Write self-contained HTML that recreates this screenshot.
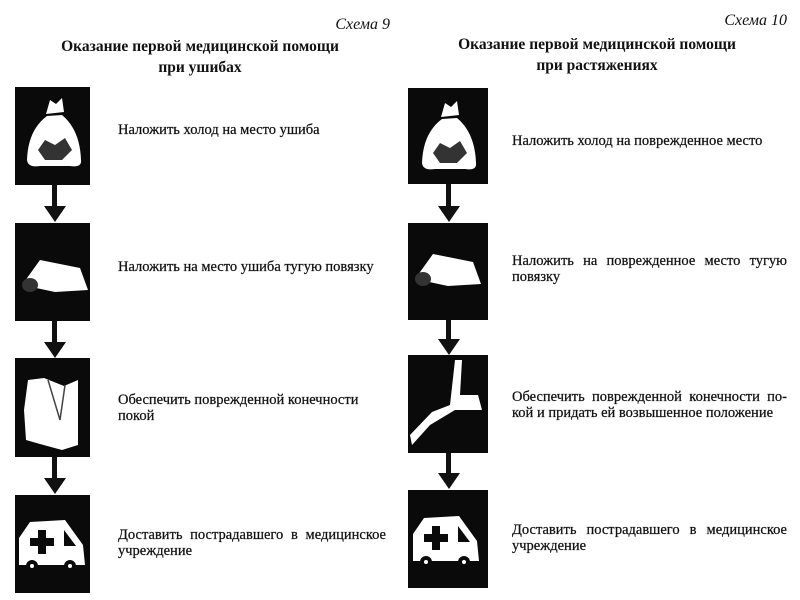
<!DOCTYPE html>
<html><head><meta charset="utf-8"><style>
body{margin:0;width:800px;height:600px;background:#fff;position:relative;overflow:hidden;font-family:"Liberation Serif",serif;color:#111}
.box{position:absolute;background:#0a0a0a}
.arr{position:absolute;width:5px;background:#111}
.hd{position:absolute;width:0;height:0;border-left:11px solid transparent;border-right:11px solid transparent;border-top:16px solid #111}
.t{position:absolute;font-size:14.5px;line-height:16px;white-space:nowrap;-webkit-text-stroke:0.25px #111}
.j{text-align:justify;text-align-last:justify;white-space:normal}
.sch{position:absolute;font-style:italic;font-size:16px}
.ti{position:absolute;font-weight:bold;font-size:15.5px;text-align:center;line-height:21px}
svg{position:absolute;left:0;top:0}
</style></head><body>
<div class="sch" style="right:410px;top:16px">Схема 9</div>
<div class="sch" style="right:13px;top:12px">Схема 10</div>
<div class="ti" style="left:30px;width:340px;top:36px">Оказание первой медицинской помощи<br>при ушибах</div>
<div class="ti" style="left:427px;width:340px;top:34px">Оказание первой медицинской помощи<br>при растяжениях</div>

<div class="box" style="left:15px;top:87px;width:75px;height:98px"></div>
<div class="box" style="left:15px;top:223px;width:75px;height:98px"></div>
<div class="box" style="left:15px;top:358px;width:75px;height:99px"></div>
<div class="box" style="left:15px;top:495px;width:75px;height:98px"></div>
<div class="box" style="left:408px;top:88px;width:80px;height:96px"></div>
<div class="box" style="left:408px;top:223px;width:80px;height:97px"></div>
<div class="box" style="left:408px;top:355px;width:80px;height:98px"></div>
<div class="box" style="left:408px;top:490px;width:80px;height:98px"></div>

<div class="arr" style="left:52px;top:185px;height:22px"></div><div class="hd" style="left:44px;top:206px"></div>
<div class="arr" style="left:52px;top:321px;height:22px"></div><div class="hd" style="left:44px;top:342px"></div>
<div class="arr" style="left:52px;top:457px;height:22px"></div><div class="hd" style="left:44px;top:478px"></div>
<div class="arr" style="left:446px;top:184px;height:23px"></div><div class="hd" style="left:438px;top:206px"></div>
<div class="arr" style="left:446px;top:320px;height:20px"></div><div class="hd" style="left:438px;top:339px"></div>
<div class="arr" style="left:446px;top:453px;height:21px"></div><div class="hd" style="left:438px;top:473px"></div>

<svg width="800" height="600" fill="#fff" stroke="none">
<g id="bag"><path d="M46 114 L50 100 L56 104 L62 98 L64 112 Z"/><path d="M47 116 Q28 130 27 160 Q28 168 40 166 L70 166 Q82 168 81 160 Q80 130 62 115 Z"/><path d="M38 150 L45 140 L55 145 L65 138 L72 150 L62 160 L45 160 Z" fill="#333"/></g>
<use href="#bag" x="395" y="3"/>
<g id="roll"><path d="M22 285 L40 260 L80 268 L88 290 L55 292 Z"/><ellipse cx="30" cy="285" rx="8" ry="7" fill="#333"/></g>
<use href="#roll" x="393" y="-6"/>
<path d="M28 380 L44 378 L64 386 L78 380 L78 445 L62 450 L40 444 L26 440 L24 410 Z"/>
<path d="M48 380 L60 420 L65 385" stroke="#444" stroke-width="1.5" fill="none"/>
<path d="M410 435 L432 412 L450 405 L455 360 L462 360 L460 395 L478 395 L482 410 L455 410 L430 425 L412 445 Z"/>
<g id="amb"><path d="M19 558 L19 538 L30 522 L65 520 L83 545 L85 565 L19 565 Z"/><path d="M38 530 h8 v8 h8 v8 h-8 v8 h-8 v-8 h-8 v-8 h8 Z" fill="#0a0a0a"/><path d="M64 530 L76 546 L64 546 Z" fill="#0a0a0a"/><circle cx="32" cy="566" r="6" fill="#0a0a0a"/><circle cx="70" cy="566" r="6" fill="#0a0a0a"/><circle cx="32" cy="566" r="2"/><circle cx="70" cy="566" r="2"/></g>
<use href="#amb" x="394" y="-4"/>
</svg>

<div class="t" style="left:118px;top:122px">Наложить холод на место ушиба</div>
<div class="t" style="left:118px;top:259px">Наложить на место ушиба тугую повязку</div>
<div class="t" style="left:118px;top:392px">Обеспечить поврежденной конечности</div>
<div class="t" style="left:118px;top:408px">покой</div>
<div class="t j" style="left:118px;top:527px;width:268px">Доставить пострадавшего в медицинское</div>
<div class="t" style="left:118px;top:543px">учреждение</div>
<div class="t" style="left:512px;top:133px">Наложить холод на поврежденное место</div>
<div class="t j" style="left:512px;top:253px;width:275px">Наложить на поврежденное место тугую</div>
<div class="t" style="left:512px;top:269px">повязку</div>
<div class="t j" style="left:512px;top:389px;width:275px">Обеспечить поврежденной конечности по-</div>
<div class="t" style="left:512px;top:405px">кой и придать ей возвышенное положение</div>
<div class="t j" style="left:512px;top:522px;width:275px">Доставить пострадавшего в медицинское</div>
<div class="t" style="left:512px;top:538px">учреждение</div>
</body></html>
